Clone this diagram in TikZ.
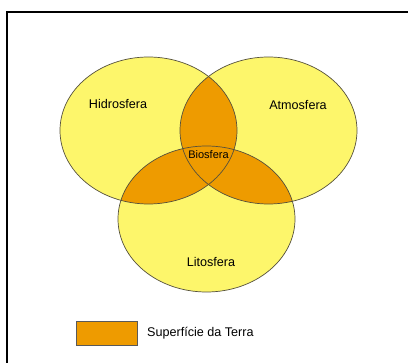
\documentclass[tikz,border=0pt]{standalone}
\usepackage{fontspec}
\setmainfont{Liberation Sans}
\definecolor{venny}{RGB}{253,246,107}
\definecolor{venno}{RGB}{238,155,0}
\definecolor{vennline}{RGB}{85,80,60}
\begin{document}
\begin{tikzpicture}[x=1pt,y=-1pt,
  lbl/.style={inner sep=0pt,font=\fontsize{12.6}{14}\selectfont},
  small/.style={inner sep=0pt,font=\fontsize{11}{13}\selectfont},
  frameline/.style={line width=2pt,black}]
\useasboundingbox (0,0) rectangle (408,363);
\def\hidro{(148.5,130.5) ellipse [x radius=88.5, y radius=73.5]}
\def\atmo{(268.5,130.5) ellipse [x radius=88.5, y radius=73.5]}
\def\lito{(206.5,219) ellipse [x radius=88.5, y radius=73]}
% frame
\coordinate (fl) at (7,363);
\coordinate (fc) at (7,12);
\coordinate (fr) at (408,12);
\draw[frameline] (fl) -- (fc) -- (fr);
% yellow fills
\fill[venny] \hidro;
\fill[venny] \atmo;
\fill[venny] \lito;
% orange pairwise intersections
\begin{scope}
  \clip \hidro;
  \fill[venno] \atmo;
  \fill[venno] \lito;
\end{scope}
\begin{scope}
  \clip \atmo;
  \fill[venno] \lito;
\end{scope}
% outlines
\draw[vennline,line width=0.7pt] \hidro;
\draw[vennline,line width=0.7pt] \atmo;
\draw[vennline,line width=0.7pt] \lito;
% labels
\node[lbl] (hid) at (118,104) {Hidrosfera};
\node[lbl] (atm) at (298,105) {Atmosfera};
\node[small] (bio) at (208.5,155) {Biosfera};
\node[lbl] (lit) at (211,262) {Litosfera};
% legend
\node[draw=gray!70!black,fill=venno,minimum width=61pt,minimum height=24pt,inner sep=0pt,line width=0.6pt] (leg) at (106.5,333.5) {};
\node[lbl,anchor=west] (legt) at (147,333.5) {Superfície da Terra};
\end{tikzpicture}
\end{document}
